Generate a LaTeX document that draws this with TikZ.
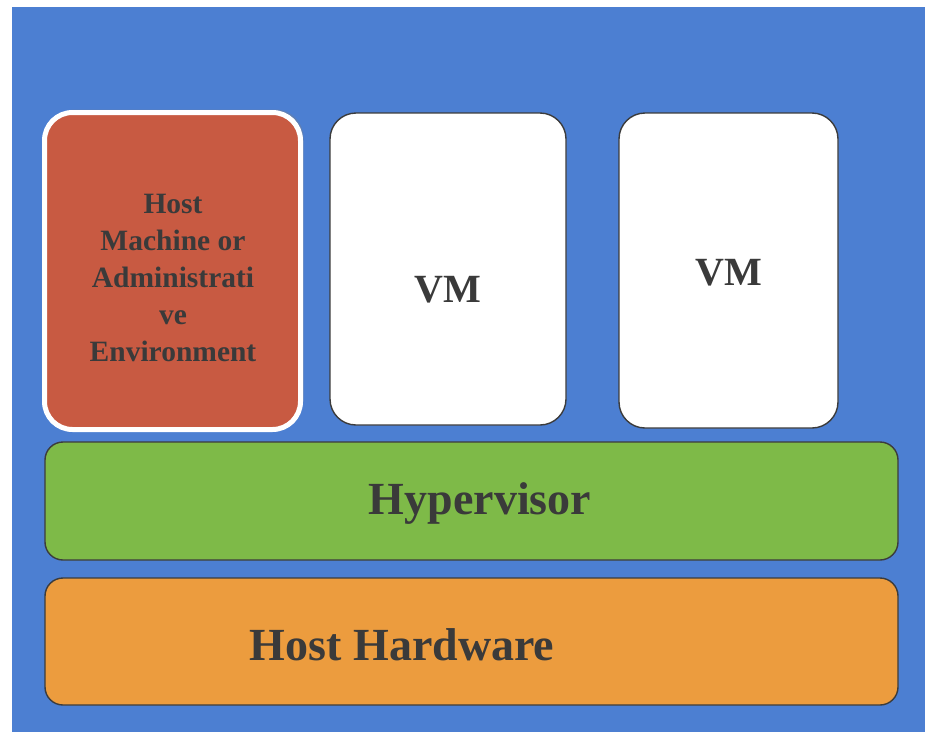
\documentclass[tikz,border=0pt]{standalone}
\usepackage{fontspec}
\setmainfont{Liberation Serif}
\usetikzlibrary{shadows}
\definecolor{bgblue}{RGB}{76,127,210}
\definecolor{hostred}{RGB}{200,90,66}
\definecolor{hypgreen}{RGB}{126,186,72}
\definecolor{hworange}{RGB}{236,156,62}
\definecolor{txtgray}{RGB}{58,58,58}
\definecolor{edgegray}{RGB}{60,60,60}
\begin{document}
\begin{tikzpicture}[x=1pt,y=-1pt,
  tallbox/.style={draw=edgegray,line width=1.4pt,fill=white,rounded corners=26pt,inner sep=0pt},
  barbox/.style={draw=edgegray,line width=1.4pt,rounded corners=18pt,inner sep=0pt},
  lbl/.style={text=txtgray,font=\bfseries}]
\useasboundingbox (0,0) rectangle (930,742);
\fill[white] (0,0) rectangle (930,742);
\fill[bgblue] (12,7) rectangle (925,732);
% host box
\node (hostbox) [draw=white,line width=5pt,fill=hostred,rounded corners=28pt,
      minimum width=256pt,minimum height=317pt,inner sep=0pt,
      drop shadow={opacity=0.35,shadow xshift=3pt,shadow yshift=3pt}] at (172.5,271) {};
\node (host) [lbl,font=\bfseries\fontsize{29.5}{37}\selectfont,align=center] at (173,278)
  {Host\\Machine or\\Administrati\\ve\\Environment};
% VMs
\node (vm1) [tallbox,minimum width=236pt,minimum height=312pt,
   label={[lbl,font=\bfseries\fontsize{40}{44}\selectfont,yshift=-21pt]center:VM}] at (448,269) {};
\node (vm2) [tallbox,minimum width=219pt,minimum height=315pt,
   label={[lbl,font=\bfseries\fontsize{40}{44}\selectfont,yshift=-2pt]center:VM}] at (728.5,270.5) {};
% bars
\node (hyp) [barbox,fill=hypgreen,minimum width=853pt,minimum height=118pt,
   label={[lbl,font=\bfseries\fontsize{46}{50}\selectfont,xshift=8.5pt,yshift=-2pt]center:Hypervisor}] at (471.5,501) {};
\node (hw) [barbox,fill=hworange,minimum width=853pt,minimum height=127pt,
   label={[lbl,font=\bfseries\fontsize{46}{50}\selectfont,xshift=-69.5pt,yshift=-3.5pt]center:Host Hardware}] at (471.5,641.5) {};
\end{tikzpicture}
\end{document}
